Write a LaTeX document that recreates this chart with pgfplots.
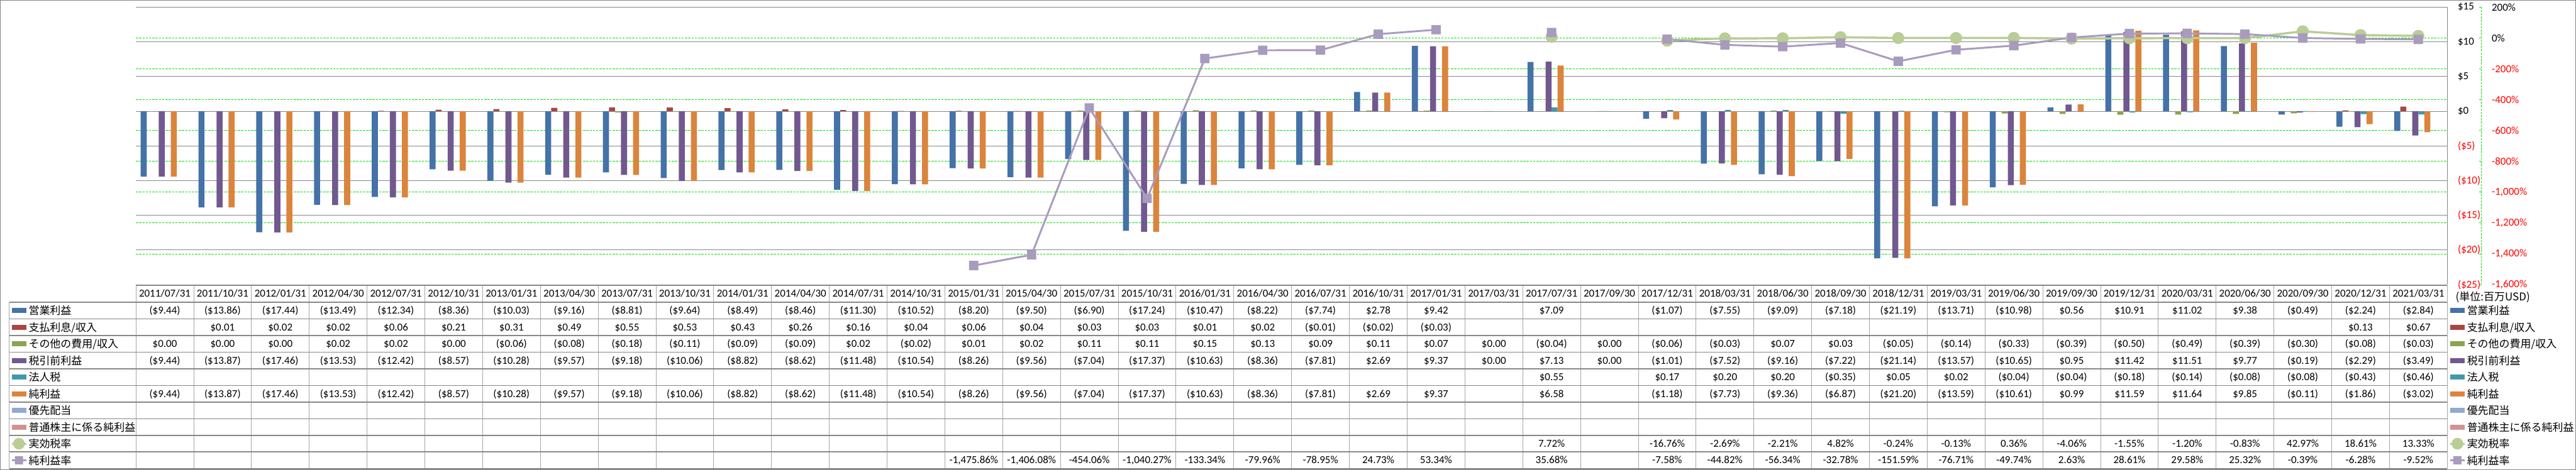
\documentclass[border=0pt]{standalone}
\usepackage{pgfplots}
\pgfplotsset{compat=1.18}
\usepackage{pgfplotstable}
\usepackage{fontspec}
\setmainfont{Carlito}
\newfontfamily\jp{Noto Sans CJK JP}
\definecolor{cOp}{HTML}{4572A7}
\definecolor{cInt}{HTML}{AA4643}
\definecolor{cOth}{HTML}{89A54E}
\definecolor{cPre}{HTML}{71588F}
\definecolor{cTax}{HTML}{4198AF}
\definecolor{cNet}{HTML}{DB843D}
\definecolor{cPref}{HTML}{93A9CF}
\definecolor{cCom}{HTML}{D19392}
\definecolor{cEtr}{HTML}{B9CD96}
\definecolor{cNpm}{HTML}{A99BBD}
\definecolor{gridgray}{HTML}{878787}
\definecolor{tabgray}{HTML}{A6A6A6}
\definecolor{xlgreen}{HTML}{00E600}
\newcommand\tf{\fontsize{9.75pt}{11pt}\selectfont}

\pgfdeclareplotmark{rsquare}{%
  \pgfsetcornersarced{\pgfpoint{1.2pt}{1.2pt}}%
  \pgfpathmoveto{\pgfqpoint{0pt}{-\pgfplotmarksize}}%
  \pgfpathlineto{\pgfqpoint{\pgfplotmarksize}{-\pgfplotmarksize}}%
  \pgfpathlineto{\pgfqpoint{\pgfplotmarksize}{\pgfplotmarksize}}%
  \pgfpathlineto{\pgfqpoint{-\pgfplotmarksize}{\pgfplotmarksize}}%
  \pgfpathlineto{\pgfqpoint{-\pgfplotmarksize}{-\pgfplotmarksize}}%
  \pgfpathclose
  \pgfusepathqfill}

\pgfplotstableread{
i date op int oth pre tax net etr npm
0 2011/07/31 -9.44 nan 0.00 -9.44 nan -9.44 nan nan
1 2011/10/31 -13.86 0.01 0.00 -13.87 nan -13.87 nan nan
2 2012/01/31 -17.44 0.02 0.00 -17.46 nan -17.46 nan nan
3 2012/04/30 -13.49 0.02 0.02 -13.53 nan -13.53 nan nan
4 2012/07/31 -12.34 0.06 0.02 -12.42 nan -12.42 nan nan
5 2012/10/31 -8.36 0.21 0.00 -8.57 nan -8.57 nan nan
6 2013/01/31 -10.03 0.31 -0.06 -10.28 nan -10.28 nan nan
7 2013/04/30 -9.16 0.49 -0.08 -9.57 nan -9.57 nan nan
8 2013/07/31 -8.81 0.55 -0.18 -9.18 nan -9.18 nan nan
9 2013/10/31 -9.64 0.53 -0.11 -10.06 nan -10.06 nan nan
10 2014/01/31 -8.49 0.43 -0.09 -8.82 nan -8.82 nan nan
11 2014/04/30 -8.46 0.26 -0.09 -8.62 nan -8.62 nan nan
12 2014/07/31 -11.30 0.16 0.02 -11.48 nan -11.48 nan nan
13 2014/10/31 -10.52 0.04 -0.02 -10.54 nan -10.54 nan nan
14 2015/01/31 -8.20 0.06 0.01 -8.26 nan -8.26 nan -1475.86
15 2015/04/30 -9.50 0.04 0.02 -9.56 nan -9.56 nan -1406.08
16 2015/07/31 -6.90 0.03 0.11 -7.04 nan -7.04 nan -454.06
17 2015/10/31 -17.24 0.03 0.11 -17.37 nan -17.37 nan -1040.27
18 2016/01/31 -10.47 0.01 0.15 -10.63 nan -10.63 nan -133.34
19 2016/04/30 -8.22 0.02 0.13 -8.36 nan -8.36 nan -79.96
20 2016/07/31 -7.74 -0.01 0.09 -7.81 nan -7.81 nan -78.95
21 2016/10/31 2.78 -0.02 0.11 2.69 nan 2.69 nan 24.73
22 2017/01/31 9.42 -0.03 0.07 9.37 nan 9.37 nan 53.34
23 2017/03/31 nan nan 0.00 0.00 nan nan nan nan
24 2017/07/31 7.09 nan -0.04 7.13 0.55 6.58 7.72 35.68
25 2017/09/30 nan nan 0.00 0.00 nan nan nan nan
26 2017/12/31 -1.07 nan -0.06 -1.01 0.17 -1.18 -16.76 -7.58
27 2018/03/31 -7.55 nan -0.03 -7.52 0.20 -7.73 -2.69 -44.82
28 2018/06/30 -9.09 nan 0.07 -9.16 0.20 -9.36 -2.21 -56.34
29 2018/09/30 -7.18 nan 0.03 -7.22 -0.35 -6.87 4.82 -32.78
30 2018/12/31 -21.19 nan -0.05 -21.14 0.05 -21.20 -0.24 -151.59
31 2019/03/31 -13.71 nan -0.14 -13.57 0.02 -13.59 -0.13 -76.71
32 2019/06/30 -10.98 nan -0.33 -10.65 -0.04 -10.61 0.36 -49.74
33 2019/09/30 0.56 nan -0.39 0.95 -0.04 0.99 -4.06 2.63
34 2019/12/31 10.91 nan -0.50 11.42 -0.18 11.59 -1.55 28.61
35 2020/03/31 11.02 nan -0.49 11.51 -0.14 11.64 -1.20 29.58
36 2020/06/30 9.38 nan -0.39 9.77 -0.08 9.85 -0.83 25.32
37 2020/09/30 -0.49 nan -0.30 -0.19 -0.08 -0.11 42.97 -0.39
38 2020/12/31 -2.24 0.13 -0.08 -2.29 -0.43 -1.86 18.61 -6.28
39 2021/03/31 -2.84 0.67 -0.03 -3.49 -0.46 -3.02 13.33 -9.52
}\data

\def\nanstr{nan}
\newcommand\fmtm[1]{\ifdim#1pt<0pt\relax(\$\pgfmathparse{abs(#1)}\pgfmathprintnumber[fixed,fixed zerofill,precision=2,assume math mode=true]{\pgfmathresult})\else\$\pgfmathprintnumber[fixed,fixed zerofill,precision=2,assume math mode=true]{#1}\fi}
\newcommand\fmtp[1]{\pgfmathprintnumber[fixed,fixed zerofill,precision=2,1000 sep={,},assume math mode=true]{#1}\%}
\newcommand\tabrow[3]{%
  \pgfplotstableforeachcolumnelement{#1}\of\data\as\cell{%
    \edef\tmpa{\cell}%
    \ifx\tmpa\nanstr\else
      \node[anchor=base,inner sep=0pt] at ({248+105.45*(\pgfplotstablerow+0.5)},{#2+6.2}) {\tf #3{\cell}};%
    \fi}}

\pgfplotsset{
  barkey/.style={legend image code/.code={\fill[#1] (0pt,-2pt) rectangle (13pt,2pt);}},
  etrkey/.style={legend image code/.code={\draw[cEtr,line width=1.6pt,mark=*,mark size=4.5pt,mark options={fill=cEtr,draw=none},mark repeat=2,mark phase=2] plot coordinates {(0pt,0pt) (6.5pt,0pt) (13pt,0pt)};}},
  npmkey/.style={legend image code/.code={\draw[cNpm,line width=1.6pt,mark=rsquare,mark size=3.75pt,mark options={fill=cNpm,draw=none},mark repeat=2,mark phase=2] plot coordinates {(0pt,0pt) (6.5pt,0pt) (13pt,0pt)};}},
  geom/.style={at={(124pt,169pt)}, anchor=south west, scale only axis, width=2109pt, height=253.5pt, xmin=-0.5, xmax=39.5},
  tablegend/.style={legend cell align=left, legend style={at={(axis description cs:#1,-0.06312)}, anchor=north west, draw=none, fill=none, inner sep=0pt, outer sep=0pt, row sep=0pt, column sep=1.5pt, font=\jp\tf, nodes={inner sep=0pt, outer sep=0pt, text height=11.3pt, text depth=3.9pt}}},
}
\newcommand\allkeys{%
  \addlegendimage{barkey=cOp}\addlegendentry{営業利益}
  \addlegendimage{barkey=cInt}\addlegendentry{支払利息/収入}
  \addlegendimage{barkey=cOth}\addlegendentry{その他の費用/収入}
  \addlegendimage{barkey=cPre}\addlegendentry{税引前利益}
  \addlegendimage{barkey=cTax}\addlegendentry{法人税}
  \addlegendimage{barkey=cNet}\addlegendentry{純利益}
  \addlegendimage{barkey=cPref}\addlegendentry{優先配当}
  \addlegendimage{barkey=cCom}\addlegendentry{普通株主に係る純利益}
  \addlegendimage{etrkey}\addlegendentry{実効税率}
  \addlegendimage{npmkey}\addlegendentry{純利益率}
}

\begin{document}
\begin{tikzpicture}
\useasboundingbox (0,0) rectangle (2350.5pt,429pt);

% secondary scale: green grid, labels, table legend on the left
\begin{axis}[geom, ymin=-1600, ymax=200,
  axis x line=none, axis y line*=right,
  y axis line style={-, xlgreen, dash pattern=on 2pt off 1pt, line width=0.5pt, xshift=31pt},
  ytick style={xlgreen, line width=0.5pt, xshift=31pt},
  major tick length=2pt,
  ytick={-1600,-1400,...,200},
  yticklabels={{\textcolor{red}{-1,600\%}},{\textcolor{red}{-1,400\%}},{\textcolor{red}{-1,200\%}},{\textcolor{red}{-1,000\%}},{\textcolor{red}{-800\%}},{\textcolor{red}{-600\%}},{\textcolor{red}{-400\%}},{\textcolor{red}{-200\%}},0\%,200\%},
  yticklabel style={anchor=west, inner sep=0pt, xshift=40.5pt, font=\tf},
  ymajorgrids, major grid style={xlgreen, dash pattern=on 2pt off 1pt, line width=0.5pt},
  tablegend=-0.05405]
\allkeys
\end{axis}

% primary scale: bars
\begin{axis}[geom, ymin=-25, ymax=15,
  axis x line=none, axis y line*=right,
  y axis line style={-, gridgray, line width=0.5pt},
  major tick length=0pt,
  ytick={-25,-20,...,15},
  yticklabels={{\textcolor{red}{(\$25)}},{\textcolor{red}{(\$20)}},{\textcolor{red}{(\$15)}},{\textcolor{red}{(\$10)}},{\textcolor{red}{(\$5)}},\$0,\$5,\$10,\$15},
  yticklabel style={anchor=west, inner sep=0pt, xshift=9.5pt, font=\tf},
  ymajorgrids, major grid style={gridgray, line width=0.5pt}]
\addplot[ybar, bar width=5.5pt, bar shift=-19.25pt, fill=cOp, draw=none] table[x=i,y=op]{\data};
\addplot[ybar, bar width=5.5pt, bar shift=-13.75pt, fill=cInt, draw=none] table[x=i,y=int]{\data};
\addplot[ybar, bar width=5.5pt, bar shift=-8.25pt, fill=cOth, draw=none] table[x=i,y=oth]{\data};
\addplot[ybar, bar width=5.5pt, bar shift=-2.75pt, fill=cPre, draw=none] table[x=i,y=pre]{\data};
\addplot[ybar, bar width=5.5pt, bar shift=2.75pt, fill=cTax, draw=none] table[x=i,y=tax]{\data};
\addplot[ybar, bar width=5.5pt, bar shift=8.25pt, fill=cNet, draw=none] table[x=i,y=net]{\data};
\end{axis}

% secondary scale: lines, legend on the right
\begin{axis}[geom, ymin=-1600, ymax=200, hide axis, clip=false,
  unbounded coords=jump, tablegend=1.00095]
\allkeys
\addplot[forget plot, cEtr, line width=2pt, line join=round, mark=*, mark size=4.5pt, mark options={fill=cEtr, draw=none}] table[x=i,y=etr]{\data};
\addplot[forget plot, cNpm, line width=1.7pt, line join=round, mark=rsquare, mark size=4.25pt, mark options={fill=cNpm, draw=none}] table[x=i,y=npm]{\data};
\end{axis}

% data table
\begin{scope}[x=0.5pt, y=-0.5pt, yshift=429pt]
  \foreach \n in {0,...,40} {\draw[tabgray, line width=0.5pt] ({248+105.45*\n},521) -- ({248+105.45*\n},856);}
  \draw[gridgray, line width=1pt] (248,521) -- (4466,521);
  \foreach \k in {0,...,10} {\draw[gridgray, line width=1pt] (17,{552+30.4*\k}) -- (4466,{552+30.4*\k});}
  \draw[tabgray, line width=0.5pt] (17,552) -- (17,856);
  \tabrow{date}{536.5}{}
  \tabrow{op}{567.2}{\fmtm}
  \tabrow{int}{597.6}{\fmtm}
  \tabrow{oth}{628}{\fmtm}
  \tabrow{pre}{658.4}{\fmtm}
  \tabrow{tax}{688.8}{\fmtm}
  \tabrow{net}{719.2}{\fmtm}
  \tabrow{etr}{810.4}{\fmtp}
  \tabrow{npm}{840.8}{\fmtp}
  \node[anchor=west, inner sep=0pt, font=\jp\tf] at (4481,543) {(単位:百万USD)};
  \draw[gridgray, line width=0.5pt] (0.5,0.5) rectangle (4700,857.5);
\end{scope}
\end{tikzpicture}
\end{document}
